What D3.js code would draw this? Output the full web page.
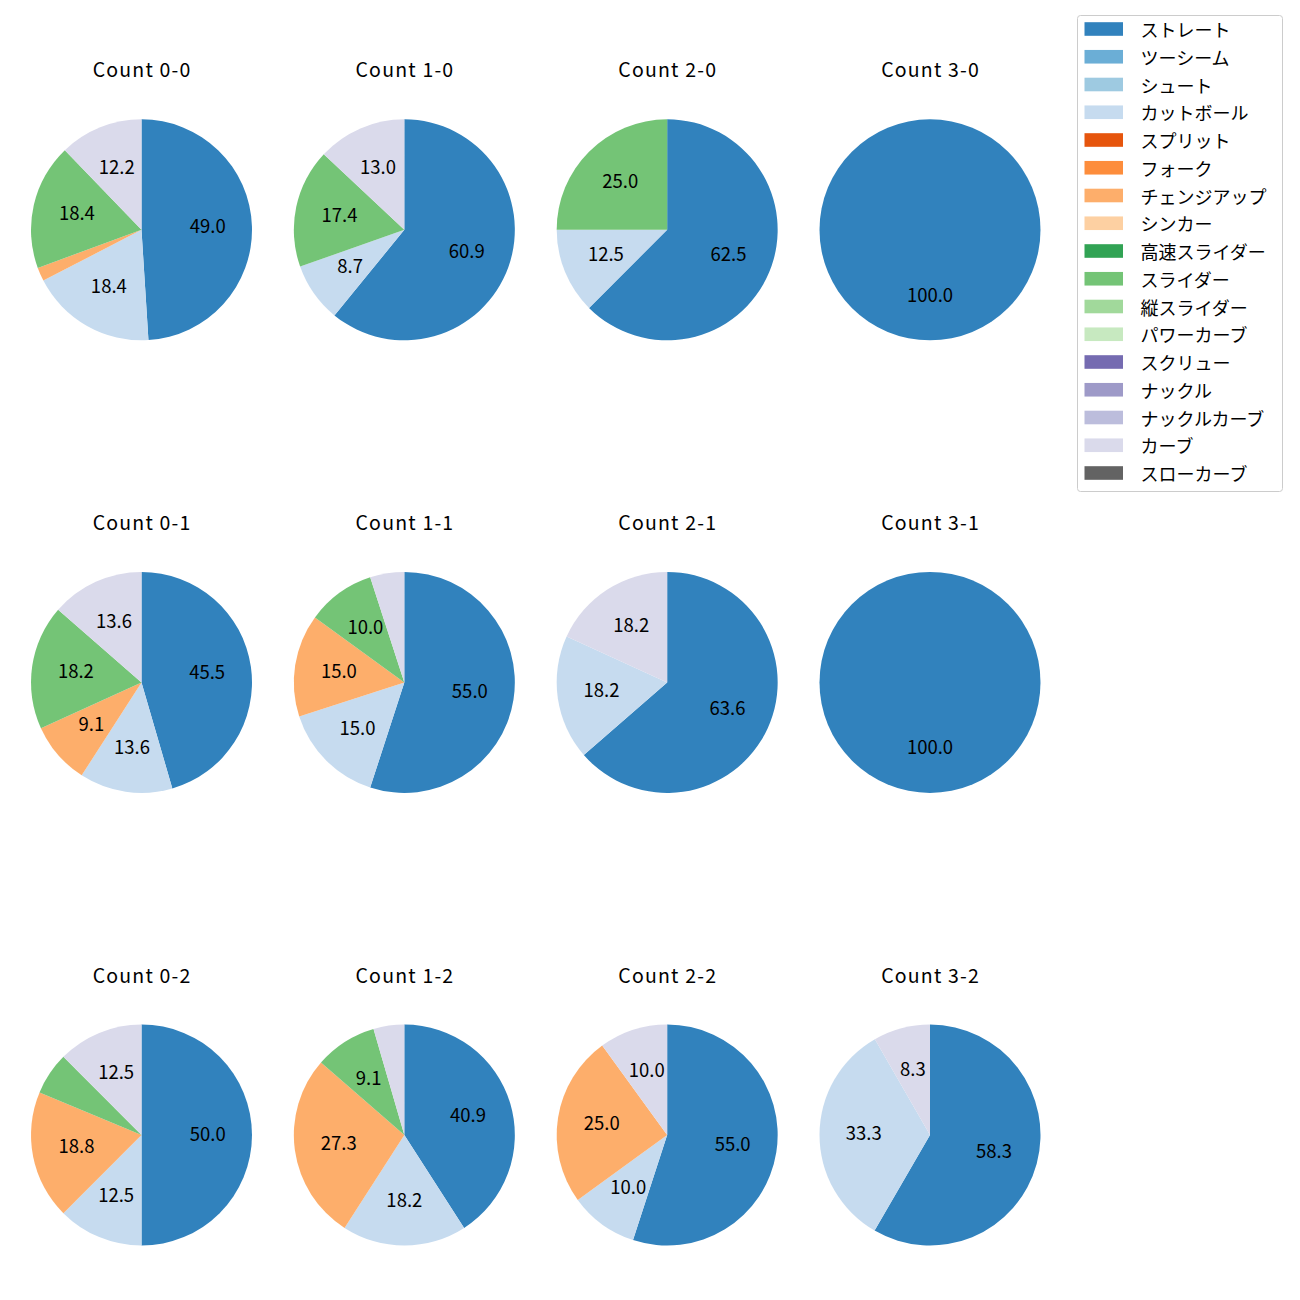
<!DOCTYPE html>
<html><head><meta charset="utf-8">
<script src="https://cdn.jsdelivr.net/npm/d3@7"></script>
<style>body{margin:0;background:#fff}svg{display:block;font-family:"Noto Sans CJK JP","Noto Sans",sans-serif}</style>
</head><body><svg id="c" width="1300" height="1300"></svg>
<script>
const pitchTypes = ["ストレート","ツーシーム","シュート","カットボール","スプリット","フォーク","チェンジアップ","シンカー","高速スライダー","スライダー","縦スライダー","パワーカーブ","スクリュー","ナックル","ナックルカーブ","カーブ","スローカーブ"];
const colors = ["#3182bd","#6baed6","#9ecae1","#c6dbef","#e6550d","#fd8d3c","#fdae6b","#fdd0a2","#31a354","#74c476","#a1d99b","#c7e9c0","#756bb1","#9e9ac8","#bcbddc","#dadaeb","#636363"];
const counts = ["0-0","1-0","2-0","3-0","0-1","1-1","2-1","3-1","0-2","1-2","2-2","3-2"];
// values per pitch type index (sparse: [typeIndex, percent])
const c00 = [[0,49.0],[3,18.4],[6,2.0],[9,18.4],[15,12.2]];
const c10 = [[0,60.9],[3,8.7],[9,17.4],[15,13.0]];
const c20 = [[0,62.5],[3,12.5],[9,25.0]];
const c30 = [[0,100.0]];
const c01 = [[0,45.5],[3,13.6],[6,9.1],[9,18.2],[15,13.6]];
const c11 = [[0,55.0],[3,15.0],[6,15.0],[9,10.0],[15,5.0]];
const c21 = [[0,63.6],[3,18.2],[15,18.2]];
const c31 = [[0,100.0]];
const c02 = [[0,50.0],[3,12.5],[6,18.8],[9,6.2],[15,12.5]];
const c12 = [[0,40.9],[3,18.2],[6,27.3],[9,9.1],[15,4.5]];
const c22 = [[0,55.0],[3,10.0],[6,25.0],[15,10.0]];
const c32 = [[0,58.3],[3,33.3],[15,8.3]];
const pieData = [c00,c10,c20,c30,c01,c11,c21,c31,c02,c12,c22,c32];

const svg = d3.select("#c");
const color = d3.scaleOrdinal().domain(d3.range(pitchTypes.length)).range(colors);
const colX = d3.scalePoint().domain([0,1,2,3]).range([141.5,930]);
const rowY = d3.scalePoint().domain([0,1,2]).range([229.8,1135]);
const R = 110.5;
const pie = d3.pie().sort(null).value(d=>d[1]);
const arc = d3.arc().innerRadius(0).outerRadius(R);
const labelArc = d3.arc().innerRadius(R*0.6).outerRadius(R*0.6);

pieData.forEach((data,i)=>{
  const cx = colX(i%4), cy = rowY(Math.floor(i/4));
  const g = svg.append("g").attr("transform",`translate(${cx},${cy})`);
  const arcs = pie(data);
  g.selectAll("path").data(arcs).join("path")
    .attr("d",arc).attr("fill",d=>color(d.data[0]));
  g.selectAll("text.l").data(arcs.filter(d=>d.data[1]>=7)).join("text")
    .attr("class","l")
    .attr("transform",d=>{const p=labelArc.centroid(d);return `translate(${p[0]},${p[1]-2.5})`;})
    .attr("text-anchor","middle").attr("dominant-baseline","central")
    .attr("font-size","18.5px").attr("fill","#000")
    .text(d=>d.data[1].toFixed(1));
  svg.append("text").attr("x",cx+0.6).attr("y",cy-161)
    .attr("text-anchor","middle").attr("dominant-baseline","central")
    .attr("font-size","19.5px").attr("letter-spacing","1.2px").attr("fill","#000")
    .text("Count "+counts[i]);
});

// legend
const lg = svg.append("g");
lg.append("rect").attr("x",1077.5).attr("y",15.5).attr("width",205).attr("height",476)
  .attr("rx",3).attr("fill","#fff").attr("stroke","#cccccc").attr("stroke-width",1);
const ly = d3.scaleLinear().domain([0,16]).range([29,473]);
pitchTypes.forEach((t,i)=>{
  lg.append("rect").attr("x",1084.5).attr("y",ly(i)-6.8).attr("width",38.5).attr("height",13.6).attr("fill",colors[i]);
  lg.append("text").attr("x",1140.5).attr("y",ly(i)).attr("dominant-baseline","central")
    .attr("font-size","18px").attr("fill","#000").text(t);
});
</script></body></html>
